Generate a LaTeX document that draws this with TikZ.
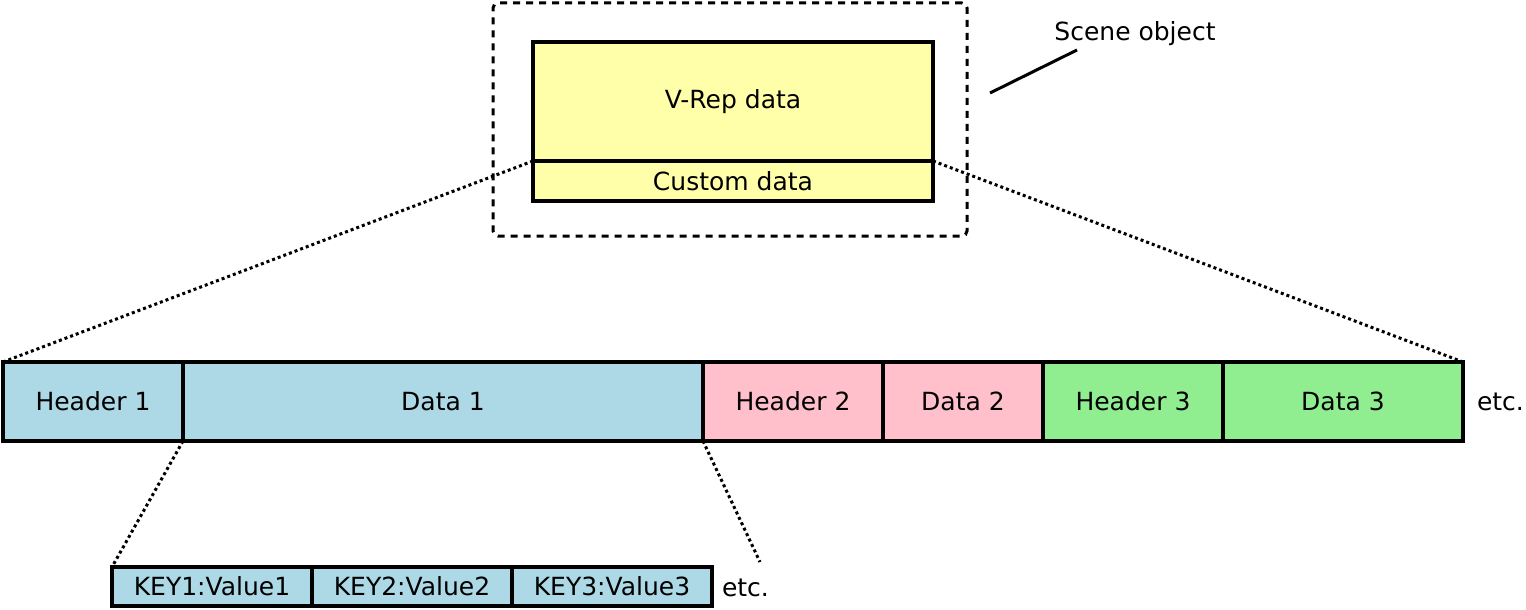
\documentclass[tikz,border=0pt]{standalone}
\usepackage{fontspec}
\setmainfont{DejaVu Sans}
\usepackage{xcolor}
\usepackage{tikz}
\usetikzlibrary{positioning}

\definecolor{vrepyellow}{HTML}{FFFFAA}
\definecolor{chunkblue}{HTML}{ADD8E6}
\definecolor{chunkpink}{HTML}{FFC0CB}
\definecolor{chunkgreen}{HTML}{90EE90}

\begin{document}
\begin{tikzpicture}[
    x=1pt, y=-1pt,
    every node/.style={font=\fontsize{25}{30}\selectfont, inner sep=0pt, outer sep=0pt},
    cellbox/.style={rectangle, draw=black, line width=3.5pt, minimum height=79pt},
    kvbox/.style={rectangle, draw=black, fill=chunkblue, line width=3.5pt, minimum width=200pt, minimum height=39pt},
    databox/.style={rectangle, draw=black, fill=vrepyellow, line width=3.5pt, minimum width=400pt},
    zoomline/.style={line width=3pt, dash pattern=on 3pt off 3pt},
    frameline/.style={line width=3pt, dash pattern=on 7pt off 6pt, rounded corners=5pt}
]
\useasboundingbox (0,0) rectangle (1526,610);

% Scene object
\node[rectangle, draw=black, frameline, minimum width=474pt, minimum height=233pt] (sceneobj) at (730,119.5) {};
\node[databox, minimum height=119pt, anchor=north west] (vrep) at (533,42) {V-Rep data};
\node[databox, minimum height=40pt, below=0pt of vrep] (custom) {Custom data};
\node (scenelabel) at (1135,34) {Scene object};
\coordinate (calloutstart) at (990,93);
\coordinate (calloutend) at (1077,50);
\draw[line width=3pt] (calloutstart) -- (calloutend);

% Custom data chunks
\node[cellbox, fill=chunkblue, minimum width=180pt, anchor=north west] (hdr1) at (3,362) {Header 1};
\node[cellbox, fill=chunkblue, minimum width=520pt, right=0pt of hdr1] (data1) {Data 1};
\node[cellbox, fill=chunkpink, minimum width=180pt, right=0pt of data1] (hdr2) {Header 2};
\node[cellbox, fill=chunkpink, minimum width=160pt, right=0pt of hdr2] (data2) {Data 2};
\node[cellbox, fill=chunkgreen, minimum width=180pt, right=0pt of data2] (hdr3) {Header 3};
\node[cellbox, fill=chunkgreen, minimum width=240pt, right=0pt of hdr3] (data3) {Data 3};
\node[right=14pt of data3] (chunketc) {etc.};

% Key/value pairs
\node[kvbox, anchor=north west] (kv1) at (112,567) {KEY1:Value1};
\node[kvbox, right=0pt of kv1] (kv2) {KEY2:Value2};
\node[kvbox, right=0pt of kv2] (kv3) {KEY3:Value3};
\node[right=10pt of kv3, yshift=-1pt] (kvetc) {etc.};
\coordinate (kvend) at (760,562);

% Zoom lines
\draw[zoomline] (custom.north west) -- (hdr1.north west);
\draw[zoomline] (custom.north east) -- (data3.north east);
\draw[zoomline] (data1.south west) -- (kv1.north west);
\draw[zoomline] (hdr2.south west) -- (kvend);

\end{tikzpicture}
\end{document}
